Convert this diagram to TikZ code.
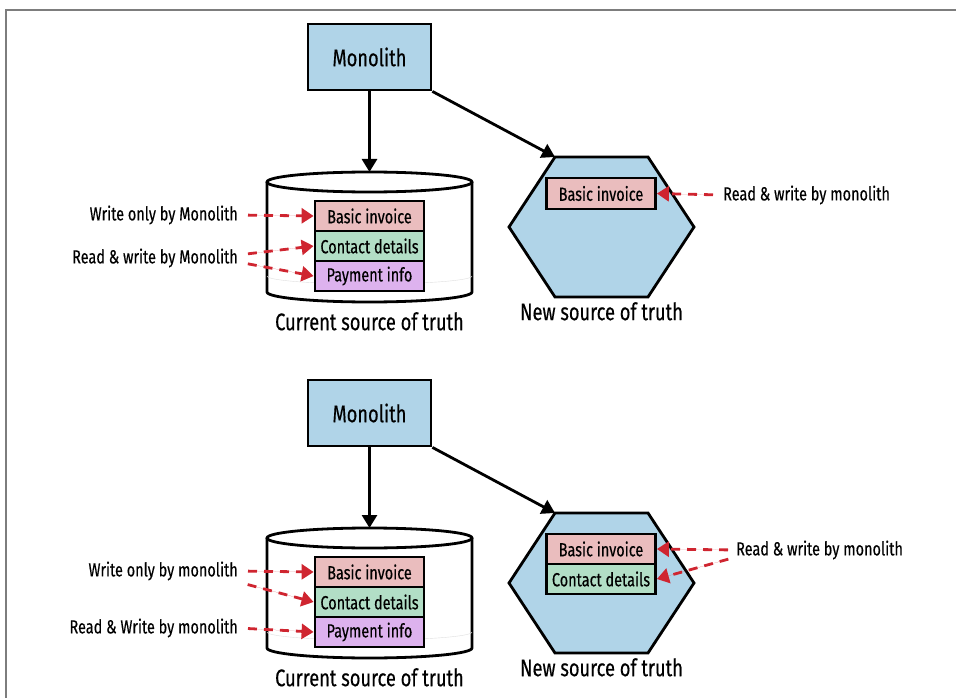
\documentclass[tikz,border=0pt]{standalone}
\usepackage{fontspec}
\setmainfont{Fira Sans}[FakeStretch=0.76,FakeBold=0.4]
\usepackage{xcolor}
\usetikzlibrary{positioning,arrows.meta}

\definecolor{monoblue}{RGB}{176,212,232}
\definecolor{invpink}{RGB}{234,189,190}
\definecolor{contgreen}{RGB}{178,222,198}
\definecolor{paypurple}{RGB}{221,178,238}
\definecolor{arrred}{RGB}{207,37,48}
\definecolor{framegray}{RGB}{125,125,125}

\begin{document}
\begin{tikzpicture}[x=1pt,y=-1pt,
      mono/.style={rectangle,draw,line width=2.8pt,fill=monoblue,minimum width=123pt,minimum height=66pt,font=\fontsize{24}{26}\selectfont},
      field/.style={rectangle,draw,line width=2.8pt,minimum width=109pt,minimum height=30pt,inner sep=0pt,font=\fontsize{19}{21}\selectfont},
      holder/.style={rectangle,draw=none,inner sep=0pt,outer sep=0pt},
      note/.style={inner sep=0pt,font=\fontsize{19}{21}\selectfont},
      title/.style={inner sep=0pt,font=\fontsize{24}{26}\selectfont},
      arr/.style={-{Triangle[length=13pt,width=15pt]},line width=2.8pt},
      rarr/.style={-{Triangle[length=12pt,width=15pt]},line width=2.8pt,draw=arrred,fill=arrred,dash pattern=on 9pt off 7pt,shorten <=10pt}]
  \useasboundingbox (0,0) rectangle (956,698);
  \draw[framegray,line width=1.5pt] (6,698) -- (6,10) -- (956,10);

  % top: before
  \node[mono] (m1) at (369.5,57) {Monolith};
  \node[holder,minimum width=205pt,minimum height=130pt] (db1) at (369.5,237) {};
  \draw[line width=2.8pt,fill=white] (db1.north west) ++(0,10) -- ++(0,110)
    arc[start angle=180,end angle=0,x radius=102.5,y radius=10] -- ++(0,-110);
  \draw[gray!25] (267,276) arc[start angle=180,end angle=0,x radius=102.5,y radius=8];
  \draw[line width=2.8pt,fill=white] (369.5,182) ellipse[x radius=102.5,y radius=10];
  \node[field,fill=invpink] (inv1) at (369.5,216) {Basic invoice};
  \node[field,fill=contgreen,below=-2.8pt of inv1] (cont1) {Contact details};
  \node[field,fill=paypurple,below=-2.8pt of cont1] (pay1) {Payment info};
  \node[title,below=10pt of db1.south] (cur1) {Current source of truth};

  \node[holder,minimum width=185pt,minimum height=140pt] (hex1) at (601.5,227) {};
  \draw[line width=2.8pt,fill=monoblue] (hex1.west) -- ([xshift=46pt]hex1.north west)
    -- ([xshift=-46pt]hex1.north east) -- (hex1.east) -- ([xshift=-46pt]hex1.south east)
    -- ([xshift=46pt]hex1.south west) -- cycle;
  \node[field,fill=invpink,minimum height=31pt] (ninv1) at (601,193.5) {Basic invoice};
  \node[title,below=5pt of hex1.south] (new1) {New source of truth};

  \draw[arr] (m1) -- (db1.north);
  \draw[arr] (m1.south east) -- ([xshift=46pt]hex1.north west);

  \node[note,anchor=east] (w1) at (238,215) {Write only by Monolith};
  \node[note,anchor=east] (rw1) at (238,258) {Read \& write by Monolith};
  \node[note,anchor=west] (rwn1) at (723,195) {Read \& write by monolith};
  \draw[rarr] (w1.east) -- (inv1.west);
  \draw[rarr] ([yshift=3pt]rw1.east) -- (cont1.west);
  \draw[rarr] ([yshift=-4pt]rw1.east) -- (pay1.west);
  \draw[rarr] (rwn1.west) -- (ninv1.east);

  % bottom: after
  \node[mono] (m2) at (369.5,413) {Monolith};
  \node[holder,minimum width=205pt,minimum height=130pt] (db2) at (369.5,593) {};
  \draw[line width=2.8pt,fill=white] (db2.north west) ++(0,10) -- ++(0,110)
    arc[start angle=180,end angle=0,x radius=102.5,y radius=10] -- ++(0,-110);
  \draw[gray!25] (267,632) arc[start angle=180,end angle=0,x radius=102.5,y radius=8];
  \draw[line width=2.8pt,fill=white] (369.5,538) ellipse[x radius=102.5,y radius=10];
  \node[field,fill=invpink] (inv2) at (369.5,572) {Basic invoice};
  \node[field,fill=contgreen,below=-2.8pt of inv2] (cont2) {Contact details};
  \node[field,fill=paypurple,below=-2.8pt of cont2] (pay2) {Payment info};
  \node[title,below=10pt of db2.south] (cur2) {Current source of truth};

  \node[holder,minimum width=185pt,minimum height=140pt] (hex2) at (601.5,583) {};
  \draw[line width=2.8pt,fill=monoblue] (hex2.west) -- ([xshift=46pt]hex2.north west)
    -- ([xshift=-46pt]hex2.north east) -- (hex2.east) -- ([xshift=-46pt]hex2.south east)
    -- ([xshift=46pt]hex2.south west) -- cycle;
  \node[field,fill=invpink] (ninv2) at (601,549) {Basic invoice};
  \node[field,fill=contgreen,below=-2.8pt of ninv2] (ncont2) {Contact details};
  \node[title,below=5pt of hex2.south] (new2) {New source of truth};

  \draw[arr] (m2) -- (db2.north);
  \draw[arr] (m2.south east) -- ([xshift=46pt]hex2.north west);

  \node[note,anchor=east] (w2) at (238,571) {Write only by monolith};
  \node[note,anchor=east] (rw2) at (238,628) {Read \& Write by monolith};
  \node[note,anchor=west] (rwn2) at (736,550) {Read \& write by monolith};
  \draw[rarr] (w2.east) -- (inv2.west);
  \draw[rarr] ([yshift=-11pt]w2.east) -- (cont2.west);
  \draw[rarr] (rw2.east) -- (pay2.west);
  \draw[rarr,shorten <=8pt] (rwn2.west) -- (ninv2.east);
  \draw[rarr,shorten <=8pt] ([yshift=-7pt]rwn2.west) -- (ncont2.east);
\end{tikzpicture}
\end{document}
